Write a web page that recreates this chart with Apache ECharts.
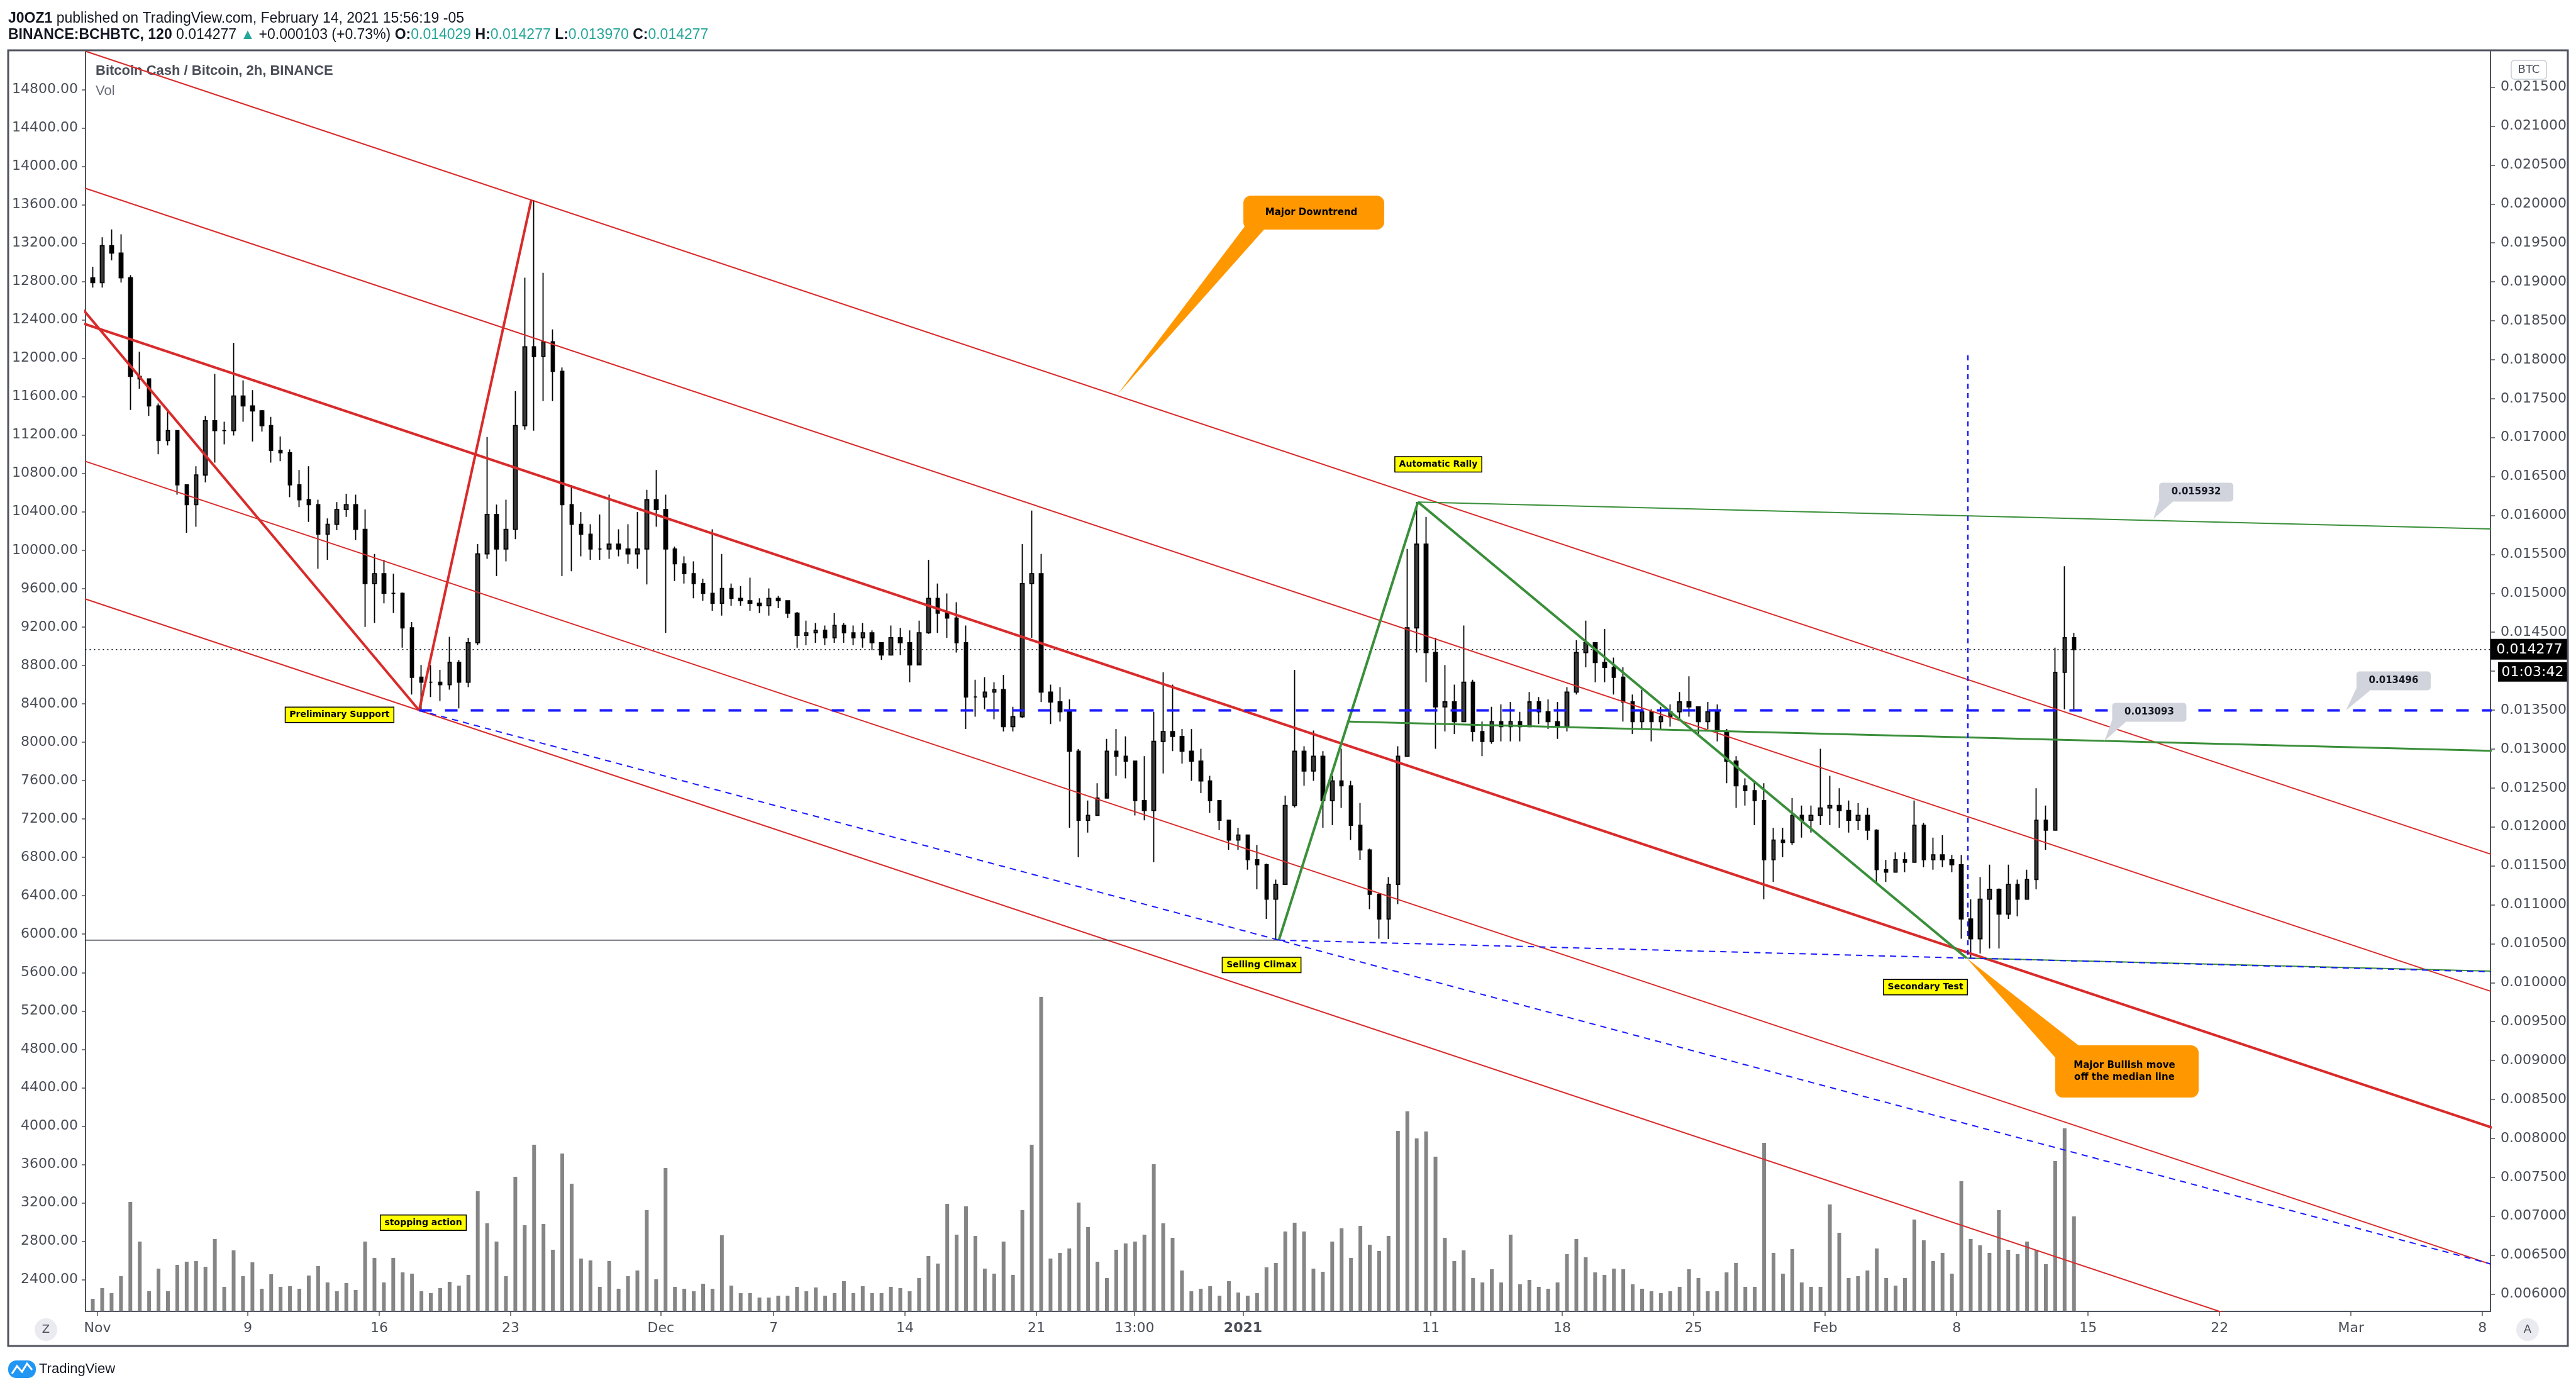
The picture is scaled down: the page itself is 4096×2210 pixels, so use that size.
<!DOCTYPE html>
<html>
<head>
<meta charset="utf-8">
<script src="https://cdn.jsdelivr.net/npm/echarts@6/dist/echarts.min.js"></script>
<style>
html, body { margin: 0; padding: 0; background: #fff; }
#chart { width: 4096px; height: 2210px; }
</style>
</head>
<body>
<div id="chart"></div>
<script>
// BCHBTC, candles grouped by 12h, x = days since Nov 1 2020, prices in 1e-6 BTC
var startDay = -0.25, stepDay = 0.5;
var firstOpen = 19050;

var highs = [
  19192,19573,19674,19611,19085,18103,17754,17438,17355,17089,
  16392,16633,17279,17818,17203,18217,17735,17609,17355,17267,
  17013,16849,16583,16633,16202,15962,16171,16278,16266,16076,
  15506,15430,15252,15011,14631,14080,14080,14017,14441,14144,
  14429,15632,17007,
  16139,16202,17596,19053,20050,19116,18388,17900,16392,16044,
  15886,16012,16266,15822,15886,16044,16329,16583,16266,15601,
  15474,15411,15189,15822,15506,15125,15094,15201,14935,15062,
  14967,14904,14760,14650,14619,14587,14745,14619,14587,14619,
  14523,14365,14587,14556,
  14523,14650,15430,15125,14999,14885,14587,13890,13922,13858,
  13953,13542,15632,16063,15506,13827,13795,13637,13000,12338,
  12560,13130,13257,13162,12845,12908,13478,13985,13827,13257,
  13257,13003,12655,12338,12085,11990,11900,11768,11530,11324,
  12401,14017,13035,
  13238,12972,12655,13003,12591,12306,11720,11150,11356,13035,
  15569,16172,15981,14429,14080,13827,14587,13890,13352,13542,
  13573,13605,13478,13732,13668,13637,13605,13795,14397,14650,
  14365,14543,14175,14049,13700,13763,13510,13542,13573,13732,
  13935,13542,
  13605,13573,13257,12908,12623,12591,12560,11990,11990,12370,
  12275,12275,13003,12655,12496,12338,12306,12243,11970,11578,
  11673,11673,12338,12053,11863,11895,11641,11641,11071,11356,
  11514,11210,11514,11324,11451,12496,12275,14302,15347,14492
];
var lows = [
  18926,18926,19275,18990,17355,17628,17279,16785,16899,16266,
  15778,15854,16424,16678,16912,17026,17203,16950,17077,16678,
  16697,16234,16107,15917,15315,15430,15810,15981,15683,14568,
  14619,14872,14745,14302,13700,13497,13668,13618,13763,13523,
  13795,14334,15442,
  15220,15411,15696,17100,17089,17469,17469,15220,15284,15474,
  15430,15430,15442,15474,15379,15315,15113,15854,14492,15157,
  15125,14935,14904,14777,14714,14840,14840,14777,14745,14714,
  14809,14682,14302,14334,14365,14334,14365,14365,14334,14302,
  14270,14144,14200,14207,
  13858,14112,14480,14492,14429,14239,13257,13415,13510,13383,
  13225,13225,13400,14429,13605,13320,13352,11990,11609,11926,
  12140,12433,12655,12623,12148,12085,11546,12687,12972,12813,
  12591,12433,12180,11958,11704,11704,11451,11198,10818,10546,
  11261,12250,12528,
  12591,11990,12021,12243,11831,11578,10944,10564,10560,11008,
  12900,14239,13858,13003,13225,13193,13352,13098,12908,13067,
  13098,13098,13098,13280,13320,13257,13130,13225,13700,14049,
  13858,13858,13700,13352,13193,13257,13098,13257,13288,13383,
  13415,13162,
  13257,13098,12560,12243,12274,12021,11071,11293,11610,11768,
  11863,11926,12021,12021,11990,11926,11958,11831,11293,11293,
  11419,11419,11540,11483,11451,11483,11419,10564,10315,10374,
  10438,10438,10818,10850,11071,11198,11704,11958,13510,13510
];
var closes = [
  18990,19465,19370,19053,17786,17754,17406,16963,17089,16392,
  16139,16519,17216,17089,17089,17533,17406,17343,17153,16836,
  16804,16392,16202,16139,15759,15886,16076,16139,15822,15125,
  15252,14999,14999,14556,13922,13858,13858,13827,14112,13858,
  14365,15506,16012,
  15569,15822,17153,18166,18040,18230,17850,16139,15886,15759,
  15569,15569,15632,15569,15506,15569,16202,16076,15569,15379,
  15252,15125,14999,14872,15062,14935,14904,14872,14840,14935,
  14904,14745,14460,14492,14524,14429,14587,14492,14429,14492,
  14365,14207,14429,14365,
  14080,14492,14935,14745,14682,14365,13668,13668,13732,13763,
  13288,13415,15125,15252,13732,13605,13478,12972,12085,12148,
  12370,12972,12908,12845,12338,12211,13098,13225,13162,12972,
  12845,12591,12338,12085,11831,11895,11578,11514,11071,11261,
  12275,12972,12718,
  12908,12338,12591,12528,12021,11704,11134,10818,11261,12908,
  14556,15632,14239,13542,13605,13352,13858,13225,13098,13352,
  13288,13352,13288,13605,13478,13352,13288,13732,14239,14365,
  14112,14049,13922,13605,13352,13478,13352,13415,13478,13605,
  13542,13352,
  13478,13225,12845,12528,12465,12338,11578,11831,11800,12148,
  12085,12148,12243,12275,12211,12085,12148,11958,11451,11419,
  11578,11546,12021,11578,11641,11578,11514,10818,10564,11071,
  11198,10881,11261,11071,11324,12085,11958,13985,14429,14277
];
var volumes = [
  20,37,29,56,174,111,32,68,32,74,
  79,80,71,115,39,97,56,78,36,59,
  39,40,36,57,72,46,32,45,34,111,
  85,46,85,62,60,32,29,37,47,41,
  58,191,140,
  111,56,214,137,265,139,98,251,203,84,
  81,39,80,36,56,65,161,51,228,39,
  36,32,44,36,121,41,29,29,22,22,
  25,25,39,32,38,25,29,48,29,40,
  29,29,39,37,
  32,53,88,76,171,122,167,120,68,60,
  111,58,161,265,500,84,93,100,173,134,
  79,53,98,108,111,122,234,140,117,65,
  32,36,40,25,48,30,25,29,70,77,
  127,141,127,
  68,63,111,132,85,136,106,96,120,287,
  318,275,286,246,117,80,97,53,46,67,
  46,122,43,50,39,36,46,91,115,86,
  62,58,68,67,43,36,32,29,32,39,
  67,53,
  32,32,62,77,39,39,268,93,60,99,
  46,39,39,170,125,53,56,65,100,53,
  41,53,146,113,80,93,60,207,115,105,
  93,161,98,91,111,98,75,239,291,151
];

// axis ticks
var priceTicks = [0.006,0.0065,0.007,0.0075,0.008,0.0085,0.009,0.0095,0.01,0.0105,0.011,0.0115,
  0.012,0.0125,0.013,0.0135,0.014,0.0145,0.015,0.0155,0.016,0.0165,0.017,0.0175,0.018,0.0185,
  0.019,0.0195,0.02,0.0205,0.021,0.0215];
var leftTicks = [2400,2800,3200,3600,4000,4400,4800,5200,5600,6000,6400,6800,7200,7600,8000,8400,
  8800,9200,9600,10000,10400,10800,11200,11600,12000,12400,12800,13200,13600,14000,14400,14800];
var dayTicks = [0,8,15,22,30,36,43,50,55.22,61,71,78,85,92,99,106,113,120,127];
var dayLabels = ['Nov','9','16','23','Dec','7','14','21','13:00','2021','11','18','25','Feb','8','15','22','Mar','8'];

// drawing anchors (day, price)
var ptB = [17.13, 0.013496];
var ptC = [23.10, 0.020050];
var ptSC = [62.91, 0.010546];
var ptAR = [70.32, 0.016172];
var ptST = [99.53, 0.010315];
var handleStart = [-0.583, 0.018592];
var forkLeft = [-0.583, [0.021957, 0.020196, 0.018451, 0.016690, 0.014922]];
var forkRight = [127.43, [0.011651, 0.009890, 0.008145, 0.006384, 0.004616]];
var arRayPt = [110.0, 0.015932];
var midRayStart = [66.62, 0.013352], midRayPt = [127.43, 0.012978];
var stRayPt = [127.43, 0.010148];
var vLineTop = [99.6, 0.018056];

var tagTexts = ['Preliminary Support', 'stopping action', 'Selling Climax', 'Automatic Rally', 'Secondary Test'];
var tagPoints = [[12.89, 0.013439], [17.35, 0.006917], [61.99, 0.010226], [71.40, 0.016656], [97.34, 0.009942]];
var calloutTexts = ['Major Downtrend', 'Major Bullish move\noff the median line'];
var calloutPoints = [[64.77, 0.019889], [108.07, 0.008860]];
var calloutTips = [[54.32, 0.017555], ptST];
var priceTagTexts = ['0.015932', '0.013496', '0.013093'];
var priceTagPoints = [[111.76, 0.016299], [122.27, 0.013876], [109.26, 0.013472]];
var priceTagTips = [[109.48, 0.015955], [119.73, 0.013496], [106.87, 0.013104]];

var FONT = '"DejaVu Sans", "Liberation Sans", sans-serif';
var HFONT = '"Liberation Sans", "DejaVu Sans", sans-serif';
var RED = '#d92b2b', GREEN = '#3a8f3a', BLUE = '#1a1aff', AXIS = '#50535e', TXT = '#4a4d57';

var candleRows = [], volRows = [];
var prevClose = firstOpen;
for (var i = 0; i < closes.length; i++) {
  var d = startDay + i * stepDay;
  candleRows.push([d, prevClose / 1e6, closes[i] / 1e6, lows[i] / 1e6, highs[i] / 1e6]);
  volRows.push([d, volumes[i]]);
  prevClose = closes[i];
}
var lastClose = closes[closes.length - 1] / 1e6;

function at(a, b, d) {
  return [d, a[1] + (b[1] - a[1]) * (d - a[0]) / (b[0] - a[0])];
}
var FAR_L = -3, FAR_R = 140;

function seg(a, b, color, width, dash) {
  return {
    type: 'line', data: [a, b], yAxisIndex: 0, symbol: 'none', showSymbol: false,
    silent: true, animation: false, z: 4, clip: true,
    lineStyle: { color: color, width: width, type: dash || 'solid' }
  };
}

var series = [];
series.push({
  type: 'bar', data: volRows, xAxisIndex: 0, yAxisIndex: 2, barWidth: 6,
  itemStyle: { color: '#858585' }, silent: true, z: 1
});
series.push({
  type: 'candlestick', data: candleRows, yAxisIndex: 0, barWidth: 6, z: 2,
  encode: { x: 0, y: [1, 2, 3, 4] },
  itemStyle: { color: '#3a3a3a', color0: '#000', borderColor: '#000', borderColor0: '#000', borderWidth: 1.8 }
});

// last price dotted line
series.push(seg([FAR_L, lastClose], [FAR_R, lastClose], '#131722', 1.5, [2, 5]));

for (var k = 0; k < 5; k++) {
  var L = [forkLeft[0], forkLeft[1][k]], R = [forkRight[0], forkRight[1][k]];
  series.push(seg(at(L, R, FAR_L), at(L, R, FAR_R), RED, k === 2 ? 4 : 2));
}
series.push(seg(at(handleStart, ptB, FAR_L), ptB, RED, 4));
series.push(seg(ptB, ptC, RED, 4));
series.push(seg(ptSC, ptAR, GREEN, 4));
series.push(seg(ptAR, ptST, GREEN, 4));
series.push(seg(ptAR, at(ptAR, arRayPt, FAR_R), GREEN, 2));
series.push(seg(midRayStart, at(midRayStart, midRayPt, FAR_R), GREEN, 3));
series.push(seg(ptST, at(ptST, stRayPt, FAR_R), GREEN, 2));
series.push(seg(ptB, [FAR_R, ptB[1]], BLUE, 4, [20, 21]));
series.push(seg(ptB, at(ptB, ptSC, FAR_R), BLUE, 2, [10, 8]));
series.push(seg(ptSC, at(ptSC, ptST, FAR_R), BLUE, 2, [10, 8]));
series.push(seg(vLineTop, [vLineTop[0], ptST[1]], BLUE, 2.5, [8, 7]));
series.push(seg([FAR_L, ptSC[1]], ptSC, '#2a2e39', 1.5));

// notes: [day, price, kind, index, tipDay, tipPrice]
var notes = [];
tagPoints.forEach(function (p, i) { notes.push([p[0], p[1], 0, i, p[0], p[1]]); });
calloutPoints.forEach(function (p, i) { notes.push([p[0], p[1], 1, i, calloutTips[i][0], calloutTips[i][1]]); });
priceTagPoints.forEach(function (p, i) { notes.push([p[0], p[1], 2, i, priceTagTips[i][0], priceTagTips[i][1]]); });
notes.push([127.428, lastClose, 3, 0, 127.428, lastClose]);

function drawNote(params, api) {
  var kind = api.value(2), idx = api.value(3);
  var c = api.coord([api.value(0), api.value(1)]);
  var tip = api.coord([api.value(4), api.value(5)]);
  if (kind === 0) {
    return {
      type: 'text', x: c[0], y: c[1],
      style: {
        text: tagTexts[idx], font: 'bold 14px ' + FONT, fill: '#000',
        align: 'center', verticalAlign: 'middle',
        backgroundColor: '#ffff00', borderColor: '#000', borderWidth: 1.5, padding: [5, 6, 4, 6]
      }
    };
  }
  if (kind === 1) {
    var w = idx === 0 ? 224 : 228, h = idx === 0 ? 54 : 83;
    var x0 = c[0] - w / 2, y0 = c[1] - h / 2;
    var wedge = idx === 0
      ? [tip, [x0 + 6, y0 + h - 10], [x0 + 40, y0 + h - 8]]
      : [tip, [x0 + 4, y0 + 24], [x0 + 42, y0 + 4]];
    return {
      type: 'group', children: [
        { type: 'polygon', shape: { points: wedge }, style: { fill: '#ff9800' } },
        { type: 'rect', shape: { x: x0, y: y0, width: w, height: h, r: 12 }, style: { fill: '#ff9800' } },
        { type: 'text', x: c[0] - 4, y: c[1], style: { text: calloutTexts[idx], font: 'bold 15px ' + FONT, fill: '#000', align: 'center', verticalAlign: 'middle', lineHeight: 19 } }
      ]
    };
  }
  if (kind === 2) {
    var tw = 118, th = 30, tx = c[0] - tw / 2, ty = c[1] - th / 2;
    return {
      type: 'group', children: [
        { type: 'polygon', shape: { points: [tip, [tx + 2, ty + th - 8], [tx + 22, ty + th]] }, style: { fill: '#d1d4dc' } },
        { type: 'rect', shape: { x: tx, y: ty, width: tw, height: th, r: 5 }, style: { fill: '#d1d4dc' } },
        { type: 'text', x: c[0], y: c[1], style: { text: priceTagTexts[idx], font: 'bold 15px ' + FONT, fill: '#131722', align: 'center', verticalAlign: 'middle' } }
      ]
    };
  }
  // last price tag and bar countdown on the right scale
  return {
    type: 'group', children: [
      { type: 'rect', shape: { x: c[0], y: c[1] - 17, width: 123, height: 33 }, style: { fill: '#000' } },
      { type: 'text', x: c[0] + 62, y: c[1], style: { text: lastClose.toFixed(6), font: '22px ' + FONT, fill: '#fff', align: 'center', verticalAlign: 'middle' } },
      { type: 'rect', shape: { x: c[0] + 12, y: c[1] + 20, width: 111, height: 31 }, style: { fill: '#000' } },
      { type: 'text', x: c[0] + 67, y: c[1] + 36, style: { text: '01:03:42', font: '22px ' + FONT, fill: '#fff', align: 'center', verticalAlign: 'middle' } }
    ]
  };
}

series.push({
  type: 'custom', data: notes, renderItem: drawNote, clip: false, z: 10, silent: true,
  encode: { x: 0, y: 1 }, animation: false
});

var option = {
  animation: false,
  backgroundColor: '#ffffff',
  grid: { left: 136, right: 136, top: 80, bottom: 125, show: false },
  xAxis: {
    type: 'value', min: -0.6363, max: 127.428,
    axisLine: { show: true, onZero: false, lineStyle: { color: AXIS, width: 2 } },
    axisTick: { show: true, customValues: dayTicks, length: 7, lineStyle: { color: AXIS, width: 1.5 } },
    axisLabel: {
      customValues: dayTicks, color: TXT, fontSize: 22, fontFamily: FONT, margin: 16,
      formatter: function (v) {
        for (var i = 0; i < dayTicks.length; i++) {
          if (Math.abs(dayTicks[i] - v) < 0.01) {
            return dayLabels[i] === '2021' ? '{b|2021}' : dayLabels[i];
          }
        }
        return '';
      },
      rich: { b: { fontWeight: 'bold', fontSize: 22, fontFamily: FONT, color: TXT } }
    },
    splitLine: { show: false }
  },
  yAxis: [
    {
      type: 'value', position: 'right', min: 0.0057779, max: 0.0219733,
      axisLine: { show: true, onZero: false, lineStyle: { color: AXIS, width: 2 } },
      axisTick: { show: true, customValues: priceTicks, length: 7, lineStyle: { color: AXIS, width: 1.5 } },
      axisLabel: {
        customValues: priceTicks, color: TXT, fontSize: 22, fontFamily: FONT, margin: 16,
        formatter: function (v) { return v.toFixed(6); }
      },
      splitLine: { show: false }
    },
    {
      type: 'value', position: 'left', min: 2069.6, max: 15208.5,
      axisLine: { show: true, onZero: false, lineStyle: { color: AXIS, width: 2 } },
      axisTick: { show: true, customValues: leftTicks, length: 6, lineStyle: { color: AXIS, width: 1.5 } },
      axisLabel: {
        customValues: leftTicks, color: TXT, fontSize: 22, fontFamily: FONT, margin: 12,
        formatter: function (v) { return v.toFixed(2); }
      },
      splitLine: { show: false }
    },
    { type: 'value', show: false, min: 0, max: 2005 }
  ],
  graphic: [
    { type: 'rect', shape: { x: 13, y: 80, width: 4070, height: 2060 }, style: { fill: 'none', stroke: AXIS, lineWidth: 3 }, z: 50 },
    { type: 'text', x: 13, y: 30, style: {
      text: '{b|J0OZ1} published on TradingView.com, February 14, 2021 15:56:19 -05',
      font: '23px ' + HFONT, fill: '#131722', verticalAlign: 'middle',
      rich: { b: { font: 'bold 23px ' + HFONT, fill: '#131722' } }
    } },
    { type: 'text', x: 13, y: 56, style: {
      text: '{b|BINANCE:BCHBTC, 120} 0.014277 {g|\u25B2} +0.000103 (+0.73%) {b|O:}{g|0.014029} {b|H:}{g|0.014277} {b|L:}{g|0.013970} {b|C:}{g|0.014277}',
      font: '23px ' + HFONT, fill: '#131722', verticalAlign: 'middle',
      rich: {
        b: { font: 'bold 23px ' + HFONT, fill: '#131722' },
        g: { font: '23px ' + HFONT, fill: '#26a69a' }
      }
    } },
    { type: 'text', x: 152, y: 113, style: { text: 'Bitcoin Cash / Bitcoin, 2h, BINANCE', font: 'bold 22px ' + HFONT, fill: '#4a4d57', verticalAlign: 'middle' } },
    { type: 'text', x: 152, y: 145, style: { text: 'Vol', font: '22px ' + HFONT, fill: '#6a6d78', verticalAlign: 'middle' } },
    { type: 'rect', shape: { x: 3993, y: 96, width: 56, height: 30, r: 5 }, style: { fill: '#fff', stroke: '#c8cbd3', lineWidth: 1.5 } },
    { type: 'text', x: 4021, y: 111, style: { text: 'BTC', font: '18px ' + FONT, fill: TXT, align: 'center', verticalAlign: 'middle' } },
    { type: 'circle', shape: { cx: 73, cy: 2114, r: 18 }, style: { fill: '#e9ebf0' } },
    { type: 'text', x: 73, y: 2114, style: { text: 'Z', font: '18px ' + FONT, fill: TXT, align: 'center', verticalAlign: 'middle' } },
    { type: 'circle', shape: { cx: 4019, cy: 2114, r: 18 }, style: { fill: '#e9ebf0' } },
    { type: 'text', x: 4019, y: 2114, style: { text: 'A', font: '18px ' + FONT, fill: TXT, align: 'center', verticalAlign: 'middle' } },
    { type: 'rect', shape: { x: 13, y: 2163, width: 44, height: 28, r: 13 }, style: { fill: '#2196f3' } },
    { type: 'polyline', shape: { points: [[19, 2184], [27, 2172], [35, 2181], [43, 2168], [51, 2178]] }, style: { stroke: '#fff', lineWidth: 3, fill: 'none' } },
    { type: 'text', x: 62, y: 2177, style: { text: 'TradingView', font: '22px ' + HFONT, fill: '#131722', verticalAlign: 'middle' } }
  ],
  series: series
};

var chart = echarts.init(document.getElementById('chart'));
chart.setOption(option);
</script>
</body>
</html>
